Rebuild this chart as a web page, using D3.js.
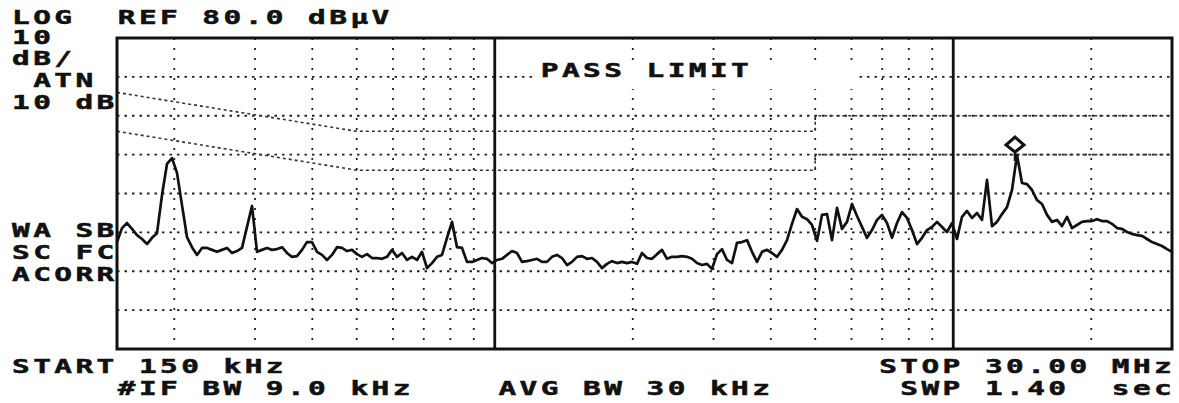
<!DOCTYPE html>
<html>
<head>
<meta charset="utf-8">
<script src="https://cdn.jsdelivr.net/npm/d3@7.9.0/dist/d3.min.js"></script>
<style>
  body { margin: 0; background: #fff; }
  svg { display: block; }
  text { font-family: 'DejaVu Sans Mono', monospace; font-weight: bold; font-size: 19px; fill: #111; stroke: #111; stroke-width: 0.5px; }
</style>
</head>
<body>
<svg id="chart" width="1179" height="403"></svg>
<script>
// analyzer settings
const startMHz = 0.15;
const stopMHz = 30;
const refLevel = 80;
const bottomLevel = 0;

// grid
const minorFreqs = [0.2, 0.3, 0.4, 0.5, 0.6, 0.7, 0.8, 0.9, 2, 3, 4, 5, 6, 7, 8, 9, 20];
const decadeFreqs = [1, 10];
const levelLines = [10, 20, 30, 40, 50, 60, 70];

// limit lines (MHz, dBuV)
const qpLimitFreq = [0.15, 0.5, 5, 5, 30];
const qpLimitDb = [66, 56, 56, 60, 60];
const avgLimitFreq = [0.15, 0.5, 5, 5, 30];
const avgLimitDb = [56, 46, 46, 50, 50];

const traceDb = [
  27.5, 31.1, 32.4, 30.9, 29.3, 28.3, 27.0, 28.6, 29.8, 39.6,
  47.6, 49.1, 45.3, 37.0, 28.8, 26.2, 24.2, 26.0, 26.0, 25.5,
  25.0, 25.5, 26.0, 24.7, 25.2, 26.0, 31.4, 36.8, 25.0, 25.5,
  26.0, 25.5, 25.7, 26.2, 24.7, 23.7, 23.9, 25.5, 27.5, 27.5,
  25.0, 24.2, 22.9, 24.2, 26.2, 26.0, 25.2, 25.5, 24.4, 23.7,
  24.4, 23.4, 23.4, 23.2, 23.7, 25.5, 23.7, 24.7, 22.9, 23.7,
  22.9, 25.0, 20.8, 22.1, 23.7, 24.2, 28.6, 32.7, 26.2, 26.0,
  22.4, 22.4, 22.9, 23.4, 23.2, 22.1, 22.9, 23.2, 24.2, 25.2,
  24.7, 22.4, 22.6, 22.9, 23.2, 22.4, 22.4, 23.7, 24.2, 23.4,
  21.6, 22.4, 23.7, 23.9, 23.2, 23.4, 22.4, 20.8, 21.9, 22.6,
  22.1, 22.4, 22.1, 22.4, 21.9, 24.7, 23.4, 23.2, 24.4, 25.5,
  23.2, 23.7, 23.7, 23.9, 23.7, 23.2, 22.1, 21.6, 21.9, 20.6,
  24.4, 25.7, 22.9, 22.1, 27.3, 27.5, 28.0, 25.0, 22.4, 25.0,
  25.5, 24.7, 23.7, 25.5, 28.0, 32.2, 36.0, 34.0, 33.4, 31.9,
  27.8, 34.5, 34.7, 28.0, 36.3, 30.9, 32.7, 37.3, 34.2, 31.4,
  28.6, 30.6, 33.2, 34.5, 32.4, 28.6, 32.4, 35.2, 33.7, 30.6,
  27.0, 28.6, 30.6, 31.4, 32.7, 31.4, 30.1, 32.4, 28.3, 34.0,
  35.5, 33.7, 35.0, 33.2, 43.5, 31.6, 32.7, 34.7, 36.5, 40.9,
  49.9, 42.7, 42.4, 40.9, 38.3, 37.3, 34.5, 32.7, 33.2, 31.6,
  34.0, 31.1, 31.9, 32.7, 32.9, 32.9, 33.4, 32.9, 32.9, 32.2,
  31.1, 30.9, 30.1, 29.6, 29.3, 29.1, 28.3, 27.5, 27.0, 26.5,
  25.7, 25.0
];

// screen annotations
const headerLines = ['LOG  REF 80.0 dB\u00b5V', '10', 'dB/', ' ATN', '10 dB'];
const statusLines = ['WA SB', 'SC FC', 'ACORR'];
const bannerText = 'PASS LIMIT';
const footerTop = [['START 150 kHz', 0], ['STOP 30.00 MHz', 41]];
const footerBottom = [['#IF BW 9.0 kHz', 5], ['AVG BW 30 kHz', 23], ['SWP 1.40  sec', 42]];

const svg = d3.select('#chart');
const box = { left: 117, right: 1172, top: 38, bottom: 349 };

const x = d3.scaleLog().domain([startMHz, stopMHz]).range([box.left, box.right]);
const y = d3.scaleLinear().domain([bottomLevel, refLevel]).range([box.bottom, box.top]);

// sweep points are spread evenly in log frequency
const sweep = d3.scaleLinear()
  .domain([0, traceDb.length - 1])
  .range([Math.log10(startMHz), Math.log10(stopMHz)]);
const sweepFreq = i => Math.pow(10, sweep(i));

const ink = '#111';

// dotted graticule
svg.append('g')
  .selectAll('line')
  .data(levelLines)
  .join('line')
  .attr('x1', box.left).attr('x2', box.right)
  .attr('y1', d => y(d)).attr('y2', d => y(d))
  .attr('stroke', '#222').attr('stroke-width', 1.8)
  .attr('stroke-dasharray', '2.5,5');

svg.append('g')
  .selectAll('line')
  .data(minorFreqs)
  .join('line')
  .attr('x1', d => x(d)).attr('x2', d => x(d))
  .attr('y1', box.top).attr('y2', box.bottom)
  .attr('stroke', '#222').attr('stroke-width', 1.8)
  .attr('stroke-dasharray', '2,8');

// limit lines
const limitLine = d3.line().x(d => x(d[0])).y(d => y(d[1]));
[[qpLimitFreq, qpLimitDb], [avgLimitFreq, avgLimitDb]].forEach(([f, v]) => {
  svg.append('path')
    .datum(f.map((d, i) => [d, v[i]]))
    .attr('d', limitLine)
    .attr('fill', 'none')
    .attr('stroke', '#333')
    .attr('stroke-width', 1.6)
    .attr('stroke-dasharray', '3,3');
});

// blank area behind the banner
svg.append('rect')
  .attr('x', 533).attr('y', 61)
  .attr('width', 322).attr('height', 28)
  .attr('fill', '#fff');

// decade lines
svg.append('g')
  .selectAll('line')
  .data(decadeFreqs)
  .join('line')
  .attr('x1', d => x(d)).attr('x2', d => x(d))
  .attr('y1', box.top).attr('y2', box.bottom)
  .attr('stroke', ink).attr('stroke-width', 2.8);

// frame
svg.append('rect')
  .attr('x', box.left).attr('y', box.top)
  .attr('width', box.right - box.left).attr('height', box.bottom - box.top)
  .attr('fill', 'none').attr('stroke', ink).attr('stroke-width', 3);

// trace
const traceLine = d3.line()
  .x((d, i) => x(sweepFreq(i)))
  .y(d => y(d));

svg.append('path')
  .datum(traceDb)
  .attr('d', traceLine)
  .attr('fill', 'none')
  .attr('stroke', ink)
  .attr('stroke-width', 2.7)
  .attr('stroke-linejoin', 'round');

// peak marker
const peakIdx = d3.maxIndex(traceDb);
const mx = x(sweepFreq(peakIdx)) - 2;
const my = y(traceDb[peakIdx]);
svg.append('line')
  .attr('x1', mx).attr('x2', mx)
  .attr('y1', my - 4).attr('y2', my + 6)
  .attr('stroke', ink).attr('stroke-width', 2.5);
svg.append('path')
  .attr('d', `M${mx},${my - 18} L${mx + 9},${my - 10} L${mx},${my - 3} L${mx - 9},${my - 10} Z`)
  .attr('fill', '#fff')
  .attr('stroke', ink)
  .attr('stroke-width', 3);

// character-cell text, like the analyzer's screen font
const cell = 21.15;
const col0 = 12;
const sx = 1.55;

function screenText(str, col, baseline) {
  const xs = Array.from(str, (c, k) => ((col0 + (col + k) * cell) / sx).toFixed(2)).join(' ');
  svg.append('text')
    .attr('transform', `scale(${sx},1)`)
    .attr('x', xs)
    .attr('y', baseline)
    .attr('xml:space', 'preserve')
    .text(str);
}

const headerBase = [24, 44, 65, 87, 109];
headerLines.forEach((s, i) => screenText(s, 0, headerBase[i]));

const statusBase = [237, 259, 281];
statusLines.forEach((s, i) => screenText(s, 0, statusBase[i]));

screenText(bannerText, 25, 77);

footerTop.forEach(([s, c]) => screenText(s, c, 373));
footerBottom.forEach(([s, c]) => screenText(s, c, 395));
</script>
</body>
</html>
